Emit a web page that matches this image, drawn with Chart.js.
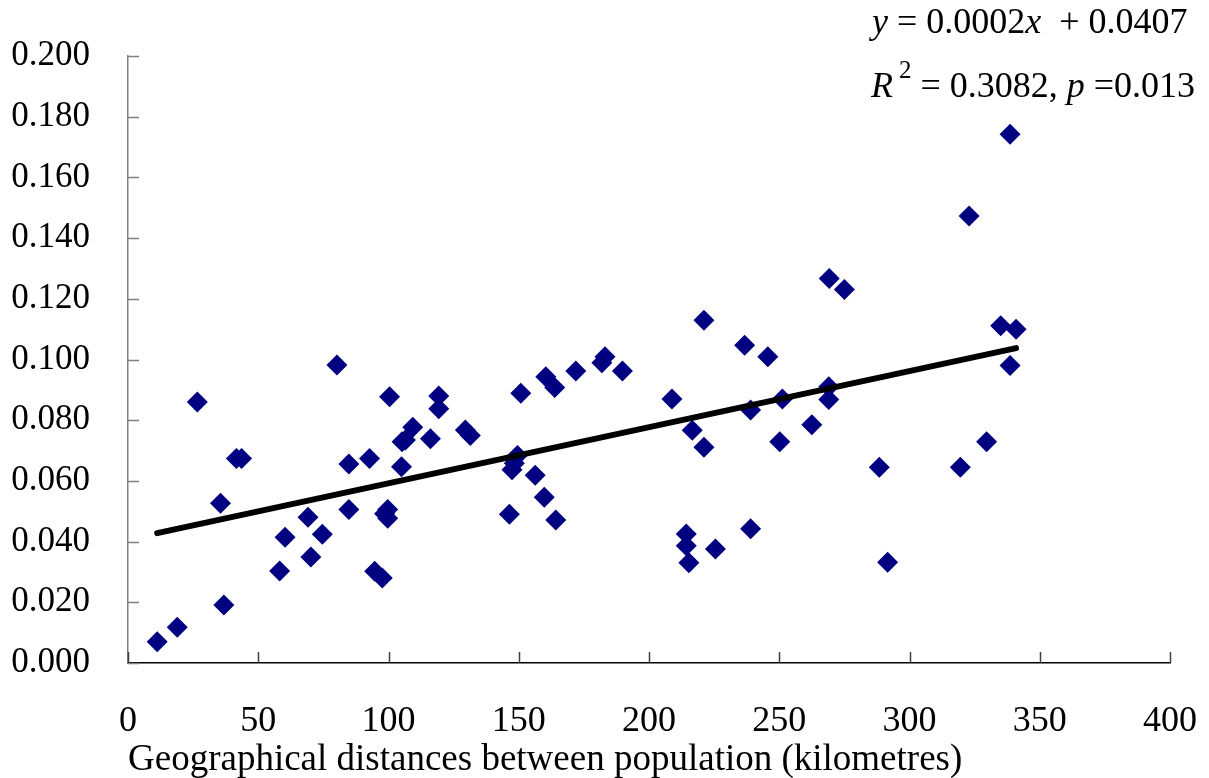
<!DOCTYPE html>
<html>
<head>
<meta charset="utf-8">
<script src="https://cdn.jsdelivr.net/npm/chart.js@4.4.1/dist/chart.umd.min.js"></script>
<style>
  html, body { margin: 0; padding: 0; background: #fff; }
  #wrap { width: 1209px; height: 778px; }
</style>
</head>
<body>
<div id="wrap"><canvas id="chart"></canvas></div>
<script>
// pairwise genetic distance against geographic distance (km)
const distanceKm = [
  11.2, 18.9, 26.6, 35.5, 36.8, 41.6, 43.6, 58.2, 60.3, 69.1,
  70.2, 74.6, 80.2, 84.8, 84.8, 92.7, 94.7, 97.6, 98.5, 99.7,
  99.7, 100.4, 105.0, 105.2, 106.5, 109.3, 116.1, 119.3, 119.3, 129.5,
  131.4, 146.4, 147.4, 148.3, 149.5, 150.8, 156.3, 159.8, 160.4, 163.8,
  164.2, 171.9, 181.9, 183.1, 189.8, 208.8, 214.3, 214.3, 215.3, 216.6,
  221.1, 221.1, 225.5, 236.7, 239.0, 239.0, 245.6, 250.2, 251.2, 262.5,
  269.0, 269.0, 269.2, 275.0, 288.4, 291.6, 319.5, 322.9, 329.6, 335.0,
  338.6, 338.6, 340.9
];
const geneticDist = [
  0.0070, 0.0118, 0.0860, 0.0526, 0.0191, 0.0674, 0.0674, 0.0303, 0.0414, 0.0480,
  0.0349, 0.0424, 0.0982, 0.0656, 0.0506, 0.0674, 0.0302, 0.0280, 0.0492, 0.0506,
  0.0477, 0.0877, 0.0647, 0.0729, 0.0735, 0.0777, 0.0739, 0.0880, 0.0838, 0.0768,
  0.0750, 0.0490, 0.0637, 0.0658, 0.0684, 0.0889, 0.0619, 0.0546, 0.0943, 0.0908,
  0.0471, 0.0962, 0.0989, 0.1009, 0.0962, 0.0870, 0.0425, 0.0386, 0.0330, 0.0767,
  0.0711, 0.1129, 0.0376, 0.1047, 0.0834, 0.0442, 0.1009, 0.0729, 0.0870, 0.0785,
  0.0910, 0.0868, 0.1267, 0.1231, 0.0645, 0.0332, 0.0645, 0.1473, 0.0729, 0.1111,
  0.1742, 0.0980, 0.1100
];

// linear fit reported in the corner (slope shown rounded to 0.0002)
const trendSlope = 0.000185;
const trendIntercept = 0.0407;

const xTicks = [0, 50, 100, 150, 200, 250, 300, 350, 400];
const yTicks = [0, 0.02, 0.04, 0.06, 0.08, 0.10, 0.12, 0.14, 0.16, 0.18, 0.20];

const xTitle = 'Geographical distances between population (kilometres)';
const eqLine1 = [['y', true], [' = 0.0002', false], ['x', true], ['  + 0.0407', false]];
const eqLine2 = [['R', true], ['2', false, 'sup'], [' = 0.3082, ', false], ['p', true], [' =0.013', false]];

const serif = "'Liberation Serif', 'Times New Roman', serif";

const points = distanceKm.map((x, i) => ({ x: x, y: geneticDist[i] }));
const xMin = Math.min(...distanceKm);
const xMax = Math.max(...distanceKm);
const trendPoints = [
  { x: xMin, y: trendIntercept + trendSlope * xMin },
  { x: xMax, y: trendIntercept + trendSlope * xMax }
];

// short tick marks pointing into the plot area
const innerTicks = {
  id: 'innerTicks',
  afterDraw(chart) {
    const ctx = chart.ctx;
    const xs = chart.scales.x, ys = chart.scales.y;
    const area = chart.chartArea;
    ctx.save();
    ctx.lineWidth = 1.5;
    ctx.strokeStyle = '#808080';
    yTicks.forEach(v => {
      const py = Math.round(ys.getPixelForValue(v)) + 0.5;
      ctx.beginPath();
      ctx.moveTo(area.left, py);
      ctx.lineTo(area.left + 11, py);
      ctx.stroke();
    });
    ctx.strokeStyle = '#404040';
    xTicks.forEach(v => {
      const px = Math.round(xs.getPixelForValue(v)) + 0.5;
      ctx.beginPath();
      ctx.moveTo(px, area.bottom);
      ctx.lineTo(px, area.bottom - 11);
      ctx.stroke();
    });
    ctx.restore();
  }
};

// regression equation in the top right corner
const equation = {
  id: 'equation',
  afterDraw(chart) {
    const ctx = chart.ctx;
    ctx.save();
    ctx.fillStyle = '#000';
    ctx.textBaseline = 'alphabetic';
    const drawLine = (parts, x, y) => {
      parts.forEach(([txt, italic, pos]) => {
        const sup = pos === 'sup';
        ctx.font = (italic ? 'italic ' : '') + (sup ? 25 : 36) + 'px ' + serif;
        ctx.fillText(txt, x + (sup ? 6 : 0), y + (sup ? -19 : 0));
        x += ctx.measureText(txt).width + (sup ? 6 : 0);
      });
    };
    drawLine(eqLine1, 872, 33);
    drawLine(eqLine2, 871, 97);
    ctx.restore();
  }
};

new Chart(document.getElementById('chart'), {
  type: 'scatter',
  data: {
    datasets: [
      {
        type: 'line',
        data: trendPoints,
        borderColor: '#000',
        borderWidth: 6,
        borderCapStyle: 'round',
        pointRadius: 0,
        fill: false,
        order: 0
      },
      {
        data: points,
        pointStyle: 'rectRot',
        pointRadius: 10.5,
        backgroundColor: '#000080',
        borderColor: '#000080',
        borderWidth: 0,
        order: 1
      }
    ]
  },
  options: {
    responsive: true,
    maintainAspectRatio: false,
    animation: false,
    layout: { padding: { top: 56, right: 39, left: 0, bottom: 0 } },
    plugins: { legend: { display: false }, tooltip: { enabled: false } },
    scales: {
      x: {
        type: 'linear',
        min: 0,
        max: 400,
        afterBuildTicks: s => { s.ticks = xTicks.map(v => ({ value: v })); },
        afterFit: s => {
          s.height = 115;
          // labels overhang into the margins, don't let them shrink the plot
          s.paddingLeft = 0;
          s.paddingRight = 0;
        },
        grid: { display: false, drawTicks: false },
        border: { display: true, color: '#000', width: 1.5 },
        ticks: {
          padding: 37,
          color: '#000',
          maxRotation: 0,
          font: { family: serif, size: 36 }
        },
        title: {
          display: true,
          text: xTitle,
          align: 'start',
          color: '#000',
          font: { family: serif, size: 37, lineHeight: 1 },
          padding: { top: 0, bottom: -1 }
        }
      },
      y: {
        type: 'linear',
        min: 0,
        max: 0.2,
        afterBuildTicks: s => { s.ticks = yTicks.map(v => ({ value: v })); },
        afterFit: s => {
          s.width = 128;
          s.paddingTop = 0;
          s.paddingBottom = 0;
        },
        grid: { display: false, drawTicks: false },
        border: { display: true, color: '#808080', width: 1.5 },
        ticks: {
          padding: 38,
          color: '#000',
          font: { family: serif, size: 35 },
          callback: v => v.toFixed(3)
        }
      }
    }
  },
  plugins: [innerTicks, equation]
});
</script>
</body>
</html>
